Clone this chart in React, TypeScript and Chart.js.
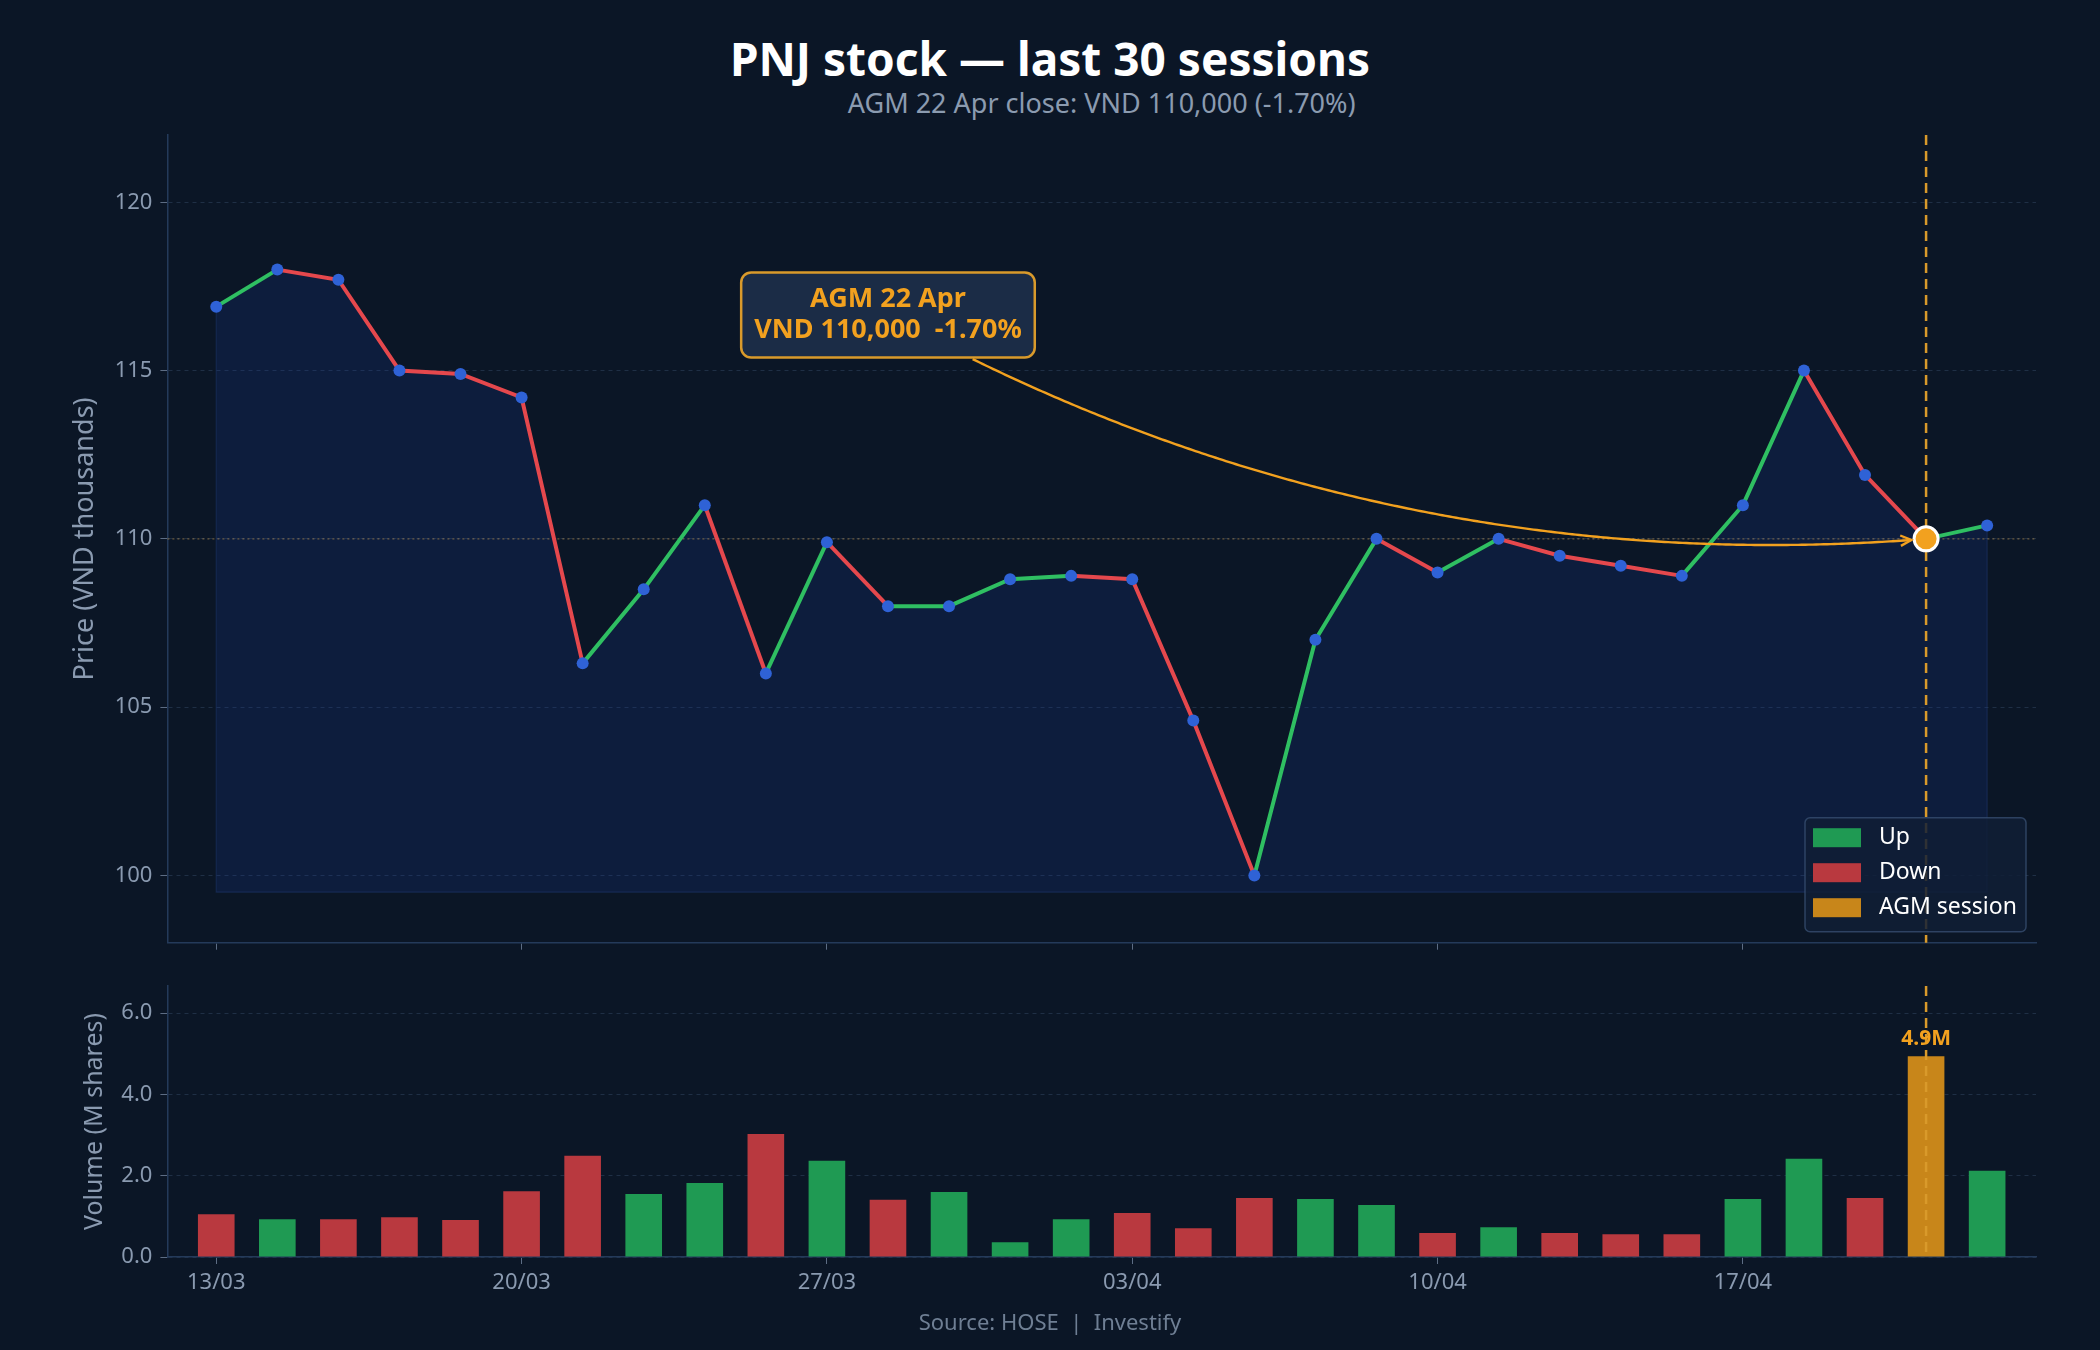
import { useEffect, useRef } from "react";
import { Chart, registerables } from "chart.js";

Chart.register(...registerables);

const FONT = "'Noto Sans', sans-serif";
Chart.defaults.font.family = FONT;

// trading sessions, close (VND thousands), volume (M shares)
const sessions = [
  "13/03", "14/03", "17/03", "18/03", "19/03", "20/03", "21/03", "24/03", "25/03", "26/03",
  "27/03", "28/03", "31/03", "01/04", "02/04", "03/04", "04/04", "07/04", "08/04", "09/04",
  "10/04", "11/04", "14/04", "15/04", "16/04", "17/04", "18/04", "21/04", "22/04", "23/04",
];
const closes = [
  116.9, 118.0, 117.7, 115.0, 114.9, 114.2, 106.3, 108.5, 111.0, 106.0,
  109.9, 108.0, 108.0, 108.8, 108.9, 108.8, 104.6, 100.0, 107.0, 110.0,
  109.0, 110.0, 109.5, 109.2, 108.9, 111.0, 115.0, 111.9, 110.0, 110.4,
];
const volumes = [
  1.05, 0.93, 0.93, 0.98, 0.91, 1.62, 2.49, 1.55, 1.82, 3.03,
  2.37, 1.41, 1.6, 0.36, 0.93, 1.08, 0.71, 1.45, 1.43, 1.28,
  0.59, 0.73, 0.59, 0.56, 0.56, 1.43, 2.42, 1.45, 4.94, 2.12,
];
const tickEvery = 5;
const agmDate = "22/04";
const legendLabels = ["Up", "Down", "AGM session"];
const noteLines = ["AGM 22 Apr", "VND 110,000  -1.70%"];
const noteX = 11;
const noteY = 116.65;
const fillBase = 99.5;

const agmIdx = sessions.indexOf(agmDate);
const tickIdx = sessions.map((_, i) => i).filter((i) => i % tickEvery === 0);
const isUp = (i: number) => i > 0 && closes[i] >= closes[i - 1];

const BG = "#0b1626";
const GRID = "#1f2f45";
const AXIS = "#243a5a";
const TICK = "#8a9ab0";
const TICKMARK = "#5d6d84";
const UP_LINE = "#2fbf62";
const DOWN_LINE = "#e5484d";
const UP_BAR = "#1f9a53";
const DOWN_BAR = "#b9393f";
const AGM_BAR = "#c8861a";
const ORANGE = "#f2a11f";
const AGM_LINE = "#d99a2b";
const POINT = "#2f62d6";

const PLOT_LEFT = 167.4;
const PLOT_RIGHT_PAD = 64;
const PRICE_H = 966;

function roundRect(ctx: CanvasRenderingContext2D, x: number, y: number, w: number, h: number, r: number) {
  ctx.beginPath();
  ctx.moveTo(x + r, y);
  ctx.arcTo(x + w, y, x + w, y + h, r);
  ctx.arcTo(x + w, y + h, x, y + h, r);
  ctx.arcTo(x, y + h, x, y, r);
  ctx.arcTo(x, y, x + w, y, r);
  ctx.closePath();
}

const priceOverlay = {
  id: "priceOverlay",
  beforeDatasetsDraw(chart: any) {
    const { ctx, chartArea: a, scales } = chart;
    const yRef = scales.y.getPixelForValue(closes[agmIdx]);
    const xAgm = scales.x.getPixelForValue(agmIdx);
    const x0 = scales.x.getPixelForValue(0);
    const x1 = scales.x.getPixelForValue(closes.length - 1);
    const yb = scales.y.getPixelForValue(fillBase);
    ctx.save();
    // faint outline of the shaded area
    ctx.strokeStyle = "rgba(40,70,140,0.35)";
    ctx.lineWidth = 1.2;
    ctx.beginPath();
    ctx.moveTo(x0, scales.y.getPixelForValue(closes[0]));
    ctx.lineTo(x0, yb);
    ctx.lineTo(x1, yb);
    ctx.lineTo(x1, scales.y.getPixelForValue(closes[closes.length - 1]));
    ctx.stroke();

    ctx.strokeStyle = "rgba(190,150,80,0.55)";
    ctx.lineWidth = 1.2;
    ctx.setLineDash([2, 3]);
    ctx.beginPath();
    ctx.moveTo(a.left, yRef);
    ctx.lineTo(a.right, yRef);
    ctx.stroke();
    ctx.strokeStyle = AGM_LINE;
    ctx.lineWidth = 2.5;
    ctx.setLineDash([10, 6]);
    ctx.beginPath();
    ctx.moveTo(xAgm, a.top);
    ctx.lineTo(xAgm, a.bottom);
    ctx.stroke();
    ctx.restore();
  },
  afterDatasetsDraw(chart: any) {
    const { ctx, chartArea: a, scales } = chart;
    const ex = scales.x.getPixelForValue(agmIdx);
    const ey = scales.y.getPixelForValue(closes[agmIdx]);
    const cx = scales.x.getPixelForValue(noteX);
    const cy = scales.y.getPixelForValue(noteY);

    ctx.save();
    ctx.font = `bold 27px ${FONT}`;
    const lh = 31;
    const tw = Math.max(...noteLines.map((t) => ctx.measureText(t).width));
    const bw = tw + 26;
    const bh = lh * noteLines.length + 23;
    const bx = cx - bw / 2;
    const by = cy - bh / 2;

    // curved arrow (arc3-like quadratic) from the note to the AGM point
    const rad = 0.15;
    const dx = ex - cx;
    const dy = ey - cy;
    const qx = (cx + ex) / 2 - rad * dy;
    const qy = (cy + ey) / 2 + rad * dx;
    const pts: [number, number][] = [];
    for (let i = 0; i <= 300; i++) {
      const t = i / 300;
      const px = (1 - t) * (1 - t) * cx + 2 * t * (1 - t) * qx + t * t * ex;
      const py = (1 - t) * (1 - t) * cy + 2 * t * (1 - t) * qy + t * t * ey;
      const inside = px > bx && px < bx + bw && py > by && py < by + bh;
      if (inside) continue;
      if (Math.hypot(px - ex, py - ey) < 14) break;
      pts.push([px, py]);
    }
    ctx.strokeStyle = ORANGE;
    ctx.lineWidth = 2.4;
    ctx.beginPath();
    pts.forEach(([px, py], i) => (i ? ctx.lineTo(px, py) : ctx.moveTo(px, py)));
    ctx.stroke();
    if (pts.length > 4) {
      const [lx, ly] = pts[pts.length - 1];
      const [px, py] = pts[pts.length - 4];
      const ang = Math.atan2(ly - py, lx - px);
      ctx.beginPath();
      ctx.moveTo(lx - 12 * Math.cos(ang - 0.45), ly - 12 * Math.sin(ang - 0.45));
      ctx.lineTo(lx, ly);
      ctx.lineTo(lx - 12 * Math.cos(ang + 0.45), ly - 12 * Math.sin(ang + 0.45));
      ctx.stroke();
    }

    roundRect(ctx, bx, by, bw, bh, 10);
    ctx.fillStyle = "rgba(28,45,72,0.95)";
    ctx.fill();
    ctx.lineWidth = 2.5;
    ctx.strokeStyle = AGM_LINE;
    ctx.stroke();
    ctx.fillStyle = ORANGE;
    ctx.textAlign = "center";
    ctx.textBaseline = "middle";
    noteLines.forEach((t, i) => {
      ctx.fillText(t, cx, cy + (i - (noteLines.length - 1) / 2) * lh);
    });

    // legend, lower right
    const lw = 221;
    const lhh = 114;
    const lx = a.right - 10 - lw;
    const ly = a.bottom - 11 - lhh;
    roundRect(ctx, lx, ly, lw, lhh, 5);
    ctx.fillStyle = "rgba(17,31,54,0.85)";
    ctx.fill();
    ctx.lineWidth = 1.5;
    ctx.strokeStyle = "rgba(60,84,120,0.7)";
    ctx.stroke();
    const swatches = [UP_BAR, DOWN_BAR, AGM_BAR];
    ctx.font = `23px ${FONT}`;
    ctx.textAlign = "left";
    legendLabels.forEach((label, i) => {
      const rowY = ly + 20 + i * 35;
      ctx.fillStyle = swatches[i];
      ctx.fillRect(lx + 8, rowY - 9.5, 48, 19);
      ctx.fillStyle = "#ffffff";
      ctx.fillText(label, lx + 74, rowY);
    });
    ctx.restore();
  },
};

const volumeOverlay = {
  id: "volumeOverlay",
  afterDatasetsDraw(chart: any) {
    const { ctx, chartArea: a, scales } = chart;
    const xAgm = scales.x.getPixelForValue(agmIdx);
    const top = scales.y.getPixelForValue(volumes[agmIdx]);
    ctx.save();
    ctx.strokeStyle = AGM_LINE;
    ctx.lineWidth = 2.5;
    ctx.setLineDash([10, 6]);
    ctx.beginPath();
    ctx.moveTo(xAgm, a.top);
    ctx.lineTo(xAgm, a.bottom);
    ctx.stroke();
    ctx.setLineDash([]);
    ctx.font = `bold 21px ${FONT}`;
    ctx.fillStyle = ORANGE;
    ctx.textAlign = "center";
    ctx.textBaseline = "alphabetic";
    ctx.fillText(`${volumes[agmIdx].toFixed(1)}M`, xAgm, top - 11);
    ctx.restore();
  },
};

const xScale = (showLabels: boolean, height: number) => ({
  type: "linear" as const,
  min: -0.8,
  max: 29.8,
  offset: false,
  afterBuildTicks: (s: any) => {
    s.ticks = tickIdx.map((v) => ({ value: v }));
  },
  afterFit: (s: any) => {
    s.height = height;
  },
  ticks: {
    display: showLabels,
    color: TICK,
    font: { size: 22 },
    padding: 6,
    maxRotation: 0,
    callback: (v: string | number) => sessions[Number(v)] ?? "",
  },
  grid: { display: true, drawOnChartArea: false, drawTicks: true, tickLength: 7, tickColor: TICKMARK, offset: false },
  border: { color: AXIS, width: 1.5 },
});

const yScale = (
  min: number,
  max: number,
  step: number,
  title: string,
  titleSize: number,
  titlePad: number,
  digits: number
) => ({
  min,
  max,
  afterBuildTicks: (s: any) => {
    s.ticks = s.ticks.filter((t: any) => Math.abs(t.value / step - Math.round(t.value / step)) < 1e-6);
  },
  afterFit: (s: any) => {
    s.width = PLOT_LEFT;
  },
  ticks: {
    stepSize: step,
    color: TICK,
    font: { size: 22 },
    padding: 8,
    callback: (v: string | number) => Number(v).toFixed(digits),
  },
  grid: { color: GRID, lineWidth: 1, tickLength: 7, tickColor: TICKMARK, tickBorderDash: [] },
  border: { color: AXIS, width: 1.5, dash: [4, 4] },
  title: { display: true, text: title, color: TICK, font: { size: titleSize }, padding: { top: titlePad, bottom: 0 } },
});

export default function App() {
  const priceRef = useRef<HTMLCanvasElement>(null);
  const volRef = useRef<HTMLCanvasElement>(null);

  useEffect(() => {
    if (!priceRef.current || !volRef.current) return;

    const pricePoints = closes.map((y, i) => ({ x: i, y }));

    const priceChart = new Chart(priceRef.current, {
      type: "line",
      data: {
        datasets: [
          // area under the close line
          {
            data: pricePoints,
            borderWidth: 0,
            pointRadius: 0,
            tension: 0,
            fill: { value: fillBase },
            backgroundColor: "rgba(26,62,153,0.2)",
          },
          {
            data: pricePoints,
            borderWidth: 4,
            tension: 0,
            fill: false,
            segment: {
              borderColor: (c: any) => (c.p1.parsed.y >= c.p0.parsed.y ? UP_LINE : DOWN_LINE),
            },
            pointRadius: (c: any) => (c.dataIndex === agmIdx ? 12 : 6),
            pointBackgroundColor: (c: any) => (c.dataIndex === agmIdx ? ORANGE : POINT),
            pointBorderColor: (c: any) => (c.dataIndex === agmIdx ? "#ffffff" : POINT),
            pointBorderWidth: (c: any) => (c.dataIndex === agmIdx ? 3 : 0),
          } as any,
        ],
      },
      options: {
        responsive: false,
        animation: false,
        events: [],
        layout: { padding: { top: 135, right: PLOT_RIGHT_PAD, left: 0, bottom: 0 }, autoPadding: false },
        plugins: {
          legend: { display: false },
          tooltip: { enabled: false },
          filler: { drawTime: "beforeDatasetsDraw" },
        },
        scales: {
          x: xScale(false, PRICE_H - 942.7),
          y: yScale(98, 122, 5, "Price (VND thousands)", 27, 69, 0),
        } as any,
      },
      plugins: [priceOverlay],
    });

    const volChart = new Chart(volRef.current, {
      type: "bar",
      data: {
        datasets: [
          {
            data: volumes.map((y, i) => ({ x: i, y })),
            backgroundColor: volumes.map((_, i) => (i === agmIdx ? AGM_BAR : isUp(i) ? UP_BAR : DOWN_BAR)),
            borderWidth: 0,
            barPercentage: 0.6,
            categoryPercentage: 1,
          },
        ],
      },
      options: {
        responsive: false,
        animation: false,
        events: [],
        layout: { padding: { top: 26, right: PLOT_RIGHT_PAD, left: 0, bottom: 0 }, autoPadding: false },
        plugins: {
          legend: { display: false },
          tooltip: { enabled: false },
        },
        scales: {
          x: xScale(true, 93),
          y: yScale(0, 6.67, 2, "Volume (M shares)", 25, 80, 1),
        } as any,
      },
      plugins: [volumeOverlay],
    });

    return () => {
      priceChart.destroy();
      volChart.destroy();
    };
  }, []);

  return (
    <div
      style={{
        position: "absolute",
        left: 0,
        top: 0,
        width: 2100,
        height: 1350,
        background: BG,
        fontFamily: FONT,
        overflow: "hidden",
      }}
    >
      <div
        style={{
          position: "absolute",
          top: 35,
          left: 0,
          width: 2100,
          textAlign: "center",
          fontSize: 46,
          fontWeight: 700,
          lineHeight: 1,
          color: "#ffffff",
        }}
      >
        PNJ stock — last 30 sessions
      </div>
      <div
        style={{
          position: "absolute",
          top: 89,
          left: PLOT_LEFT,
          width: 2100 - PLOT_LEFT - PLOT_RIGHT_PAD,
          textAlign: "center",
          fontSize: 27,
          lineHeight: 1,
          color: "#8b9bb0",
        }}
      >
        AGM 22 Apr close: VND 110,000 (-1.70%)
      </div>
      <canvas ref={volRef} width={2100} height={390} style={{ position: "absolute", left: 0, top: 960 }} />
      <canvas ref={priceRef} width={2100} height={PRICE_H} style={{ position: "absolute", left: 0, top: 0 }} />
      <div
        style={{
          position: "absolute",
          top: 1310,
          left: 0,
          width: 2100,
          textAlign: "center",
          fontSize: 22,
          lineHeight: 1,
          color: "#6f7f94",
          whiteSpace: "pre",
        }}
      >
        {"Source: HOSE  |  Investify"}
      </div>
    </div>
  );
}
